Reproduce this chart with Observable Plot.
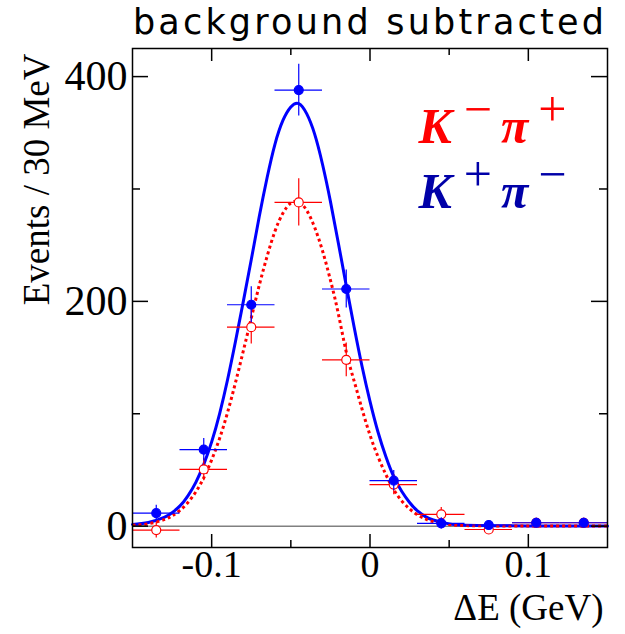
<!DOCTYPE html>
<html><head><meta charset="utf-8">
<script src="https://cdn.jsdelivr.net/npm/d3@7"></script>
<script src="https://cdn.jsdelivr.net/npm/@observablehq/plot@0.6"></script>
<style>body{margin:0;background:#fff} #chart{width:625px;height:634px}</style>
</head><body><div id="chart"></div>
<script>
// ---- data ----
const binCenters = [-0.135, -0.105, -0.075, -0.045, -0.015, 0.015, 0.045, 0.075, 0.105, 0.135];
const binHalfWidth = 0.015;
const blueCounts = [11.5, 68, 197, 388, 211, 40.5, 2.5, 1, 3, 3];
const blueErrors = [7, 10, 16, 23, 17, 9, 5, 4, 4, 4];
const redCounts = [-3.5, 50.5, 177, 288, 148, 37, 10.5, -3, 3, 3];
const redErrors = [7, 10, 15, 21, 15, 9, 6, 4, 4, 4];
const fitX = [-0.150, -0.140, -0.130, -0.125, -0.120, -0.115, -0.110, -0.105, -0.100, -0.095,
  -0.090, -0.085, -0.080, -0.075, -0.070, -0.065, -0.060, -0.055, -0.050, -0.045,
  -0.040, -0.035, -0.030, -0.025, -0.020, -0.015, -0.010, -0.005, 0.000, 0.005,
  0.010, 0.015, 0.020, 0.025, 0.030, 0.035, 0.040, 0.050, 0.060, 0.080, 0.100, 0.120, 0.150];
const blueFit = [1.5, 3.3, 7.8, 12, 18, 27, 39, 55, 75, 100,
  130, 164, 200, 237, 275, 310, 340, 361, 373, 376,
  367, 349, 322, 289, 252, 214, 177, 142, 111, 84,
  62, 44, 31, 21, 13.5, 8.5, 5.5, 2, 0.8, 0.3, 0.2, 0.2, 0.2];
const redFit = [0.8, 2.1, 5.8, 9.2, 14, 21, 30.5, 43, 59, 78,
  101, 127.5, 156, 185, 214, 240, 262.5, 278.5, 287.5, 288.5,
  281, 266, 245, 219, 189, 155, 129, 104, 81, 62,
  46, 32.5, 22.5, 15.3, 10, 6.4, 4, 1.4, 0.5, 0.2, 0.2, 0.2, 0.2];
const xTicksMajor = [-0.1, 0, 0.1];
const xTicksMinor = [-0.05, 0.05];
const yTicksMajor = [0, 200, 400];
const yTicksMinor = [100, 300];
const titleText = "background subtracted";
const xLabel = "ΔE (GeV)";
const yLabel = "Events / 30 MeV";
const legendParts = [[["K", "−"], ["π", "+"]], [["K", "+"], ["π", "−"]]];
const legendColors = ["#ff0000", "#0000a8"];

// ---- tables ----
const blue = binCenters.map((x, i) => ({x, y: blueCounts[i], e: blueErrors[i]}));
const red = binCenters.map((x, i) => ({x, y: redCounts[i], e: redErrors[i]}));
const fitTable = fitX.map((x, i) => ({x, blue: blueFit[i], red: redFit[i]}));
const legendKeys = legendParts.map(p => p.map(q => q.join("")).join(""));

const W = 625, H = 634, mL = 132, mR = 18, mT = 48, mB = 87;
const fW = W - mL - mR, fH = H - mT - mB;
const fmt = d => d === 0 ? "0" : (d < 0 ? "-" : "") + String(Math.abs(d));
const serif = "Liberation Serif";

function errMarks(data, color, filled) {
  return [
    Plot.ruleY(data, {y: "y", x1: d => d.x - binHalfWidth, x2: d => d.x + binHalfWidth, stroke: color, strokeWidth: 1.2}),
    Plot.ruleX(data, {x: "x", y1: d => d.y - d.e, y2: d => d.y + d.e, stroke: color, strokeWidth: 1.2}),
    Plot.dot(data, {x: "x", y: "y", r: 4.5, stroke: color, strokeWidth: 1.2, fill: filled ? color : "white"})
  ];
}

const plot = Plot.plot({
  width: W, height: H,
  marginLeft: mL, marginRight: mR, marginTop: mT, marginBottom: mB,
  style: {fontFamily: serif, background: "white", color: "black", overflow: "visible"},
  x: {domain: [-0.15, 0.15]},
  y: {domain: [-19, 425]},
  marks: [
    Plot.ruleY([0], {stroke: "#808080", strokeWidth: 1.5}),
    Plot.line(fitTable, {x: "x", y: "blue", stroke: "#0000ff", strokeWidth: 3, curve: "natural"}),
    Plot.line(fitTable, {x: "x", y: "red", stroke: "#ff0000", strokeWidth: 3, strokeDasharray: "3,3", strokeLinecap: "butt", curve: "natural"}),
    ...errMarks(red, "#ff0000", false),
    ...errMarks(blue, "#0000ff", true),
    Plot.ruleX(xTicksMajor, {insetTop: fH - 13, stroke: "black", strokeWidth: 1.5}),
    Plot.ruleX(xTicksMajor, {insetBottom: fH - 13, stroke: "black", strokeWidth: 1.5}),
    Plot.ruleX(xTicksMinor, {insetTop: fH - 7, stroke: "black", strokeWidth: 1.5}),
    Plot.ruleX(xTicksMinor, {insetBottom: fH - 7, stroke: "black", strokeWidth: 1.5}),
    Plot.ruleY(yTicksMajor, {insetRight: fW - 16, stroke: "black", strokeWidth: 1.5}),
    Plot.ruleY(yTicksMajor, {insetLeft: fW - 16, stroke: "black", strokeWidth: 1.5}),
    Plot.ruleY(yTicksMinor, {insetRight: fW - 8, stroke: "black", strokeWidth: 1.5}),
    Plot.ruleY(yTicksMinor, {insetLeft: fW - 8, stroke: "black", strokeWidth: 1.5}),
    Plot.frame({stroke: "black", strokeWidth: 1.5}),
    Plot.axisX(xTicksMajor, {tickSize: 0, tickPadding: 3, fontSize: 38, tickFormat: fmt, label: null, fontFamily: serif}),
    Plot.axisY(yTicksMajor, {tickSize: 0, tickPadding: 5, fontSize: 42, label: null, fontFamily: serif}),
    Plot.text([xLabel], {text: d => d, frameAnchor: "bottom-right", textAnchor: "end", lineAnchor: "bottom", dx: -4, dy: 72, fontSize: 37, fontFamily: serif}),
    Plot.text([yLabel], {text: d => d, frameAnchor: "top-left", rotate: -90, textAnchor: "end", dx: -110, dy: 5, fontSize: 37, fontFamily: serif}),
    Plot.text([titleText], {text: d => d, frameAnchor: "top", lineAnchor: "bottom", dy: -15, fontSize: 35, fontFamily: "DejaVu Sans"}),
    ...legendKeys.map((k, i) => Plot.text([k], {text: d => d, frameAnchor: "top-right", textAnchor: "start", lineAnchor: "bottom", dx: -189, dy: 94 + i * 65, fill: legendColors[i], fontSize: 50, fontFamily: serif}))
  ]
});
document.getElementById("chart").appendChild(plot);

// superscripts for legend labels
d3.select(plot).selectAll("text").each(function () {
  const el = d3.select(this);
  const idx = legendKeys.indexOf(this.textContent);
  if (idx < 0) return;
  el.text(null);
  legendParts[idx].forEach(([base, sup], j) => {
    el.append("tspan").attr("font-weight", "bold").attr("font-style", "italic").attr("font-size", 50)
      .attr("dy", j === 0 ? null : 17).attr("dx", j === 0 ? null : 9).text(base);
    el.append("tspan").attr("font-size", 50).attr("dy", -17).attr("dx", j === 0 ? 12 : 10).text(sup);
  });
});
// title letter spacing
d3.select(plot).selectAll("text").filter(function () { return this.textContent === titleText; })
  .attr("letter-spacing", 3.2);
</script></body></html>
